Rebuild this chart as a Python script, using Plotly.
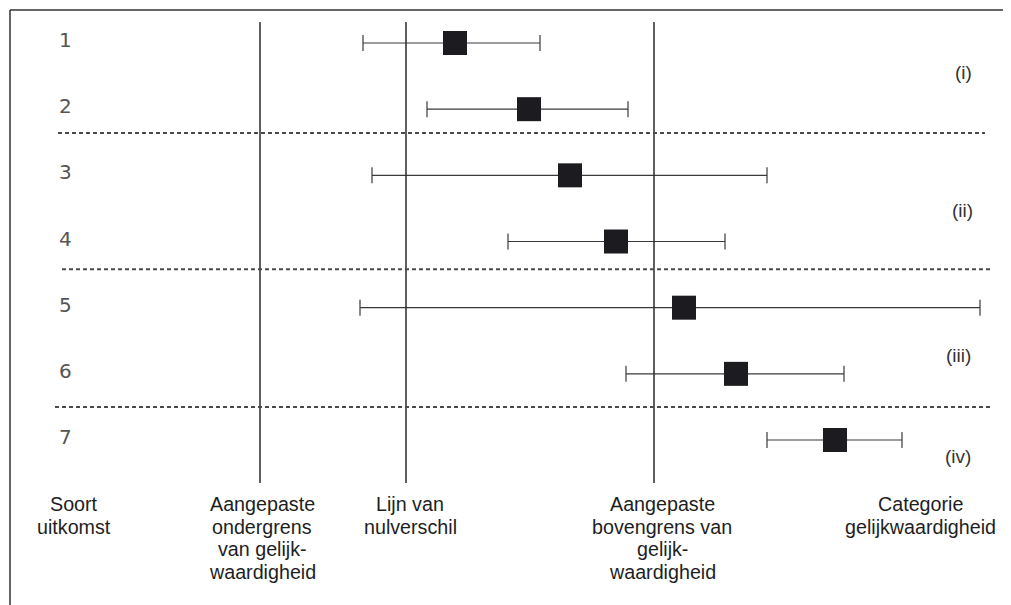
import plotly.graph_objects as go

# ---- data (effect scale: 0 = no difference; margins of equivalence) ----
rows = [1, 2, 3, 4, 5, 6, 7]
row_labels = ["1", "2", "3", "4", "5", "6", "7"]
estimate = [0.49, 1.23, 1.64, 2.10, 2.78, 3.30, 4.29]
ci_low = [-0.43, 0.21, -0.34, 1.02, -0.46, 2.20, 3.61]
ci_high = [1.34, 2.22, 3.61, 3.19, 5.74, 4.38, 4.96]

lower_margin = -1.46
zero_line = 0.0
upper_margin = 2.48

group_labels = ["(i)", "(ii)", "(iii)", "(iv)"]
group_label_rows = [1.45, 3.53, 5.72, 7.25]
separator_rows = [2.36, 4.42, 6.50]

bottom_labels = [
    ["Soort", "uitkomst"],
    ["Aangepaste", "ondergrens", "van gelijk-", "waardigheid"],
    ["Lijn van", "nulverschil"],
    ["Aangepaste", "bovengrens van", "gelijk-", "waardigheid"],
    ["Categorie", "gelijkwaardigheid"],
]
bottom_label_px = [74, 262, 410, 662, 920]

# page has an 8px body margin; figure is placed at (8, 8)
OFF = 8
W, H = 1011 - OFF, 605 - OFF
FONT = "Liberation Sans, Arial, sans-serif"


def px_x(p):
    return (p - OFF) / W


def px_y(p):
    return 1 - (p - OFF) / H


err_plus = [h - e for h, e in zip(ci_high, estimate)]
err_minus = [e - l for e, l in zip(estimate, ci_low)]

fig = go.Figure()
fig.add_trace(go.Scatter(
    x=estimate, y=rows, mode="markers",
    marker=dict(symbol="square", size=24, color="#1c1c20",
                line=dict(width=0)),
    error_x=dict(type="data", symmetric=False, array=err_plus,
                 arrayminus=err_minus, color="#3a3a3a", thickness=1.2,
                 width=8),
    showlegend=False, hoverinfo="skip",
))

shapes = []
# vertical reference lines
for xv in [lower_margin, zero_line, upper_margin]:
    shapes.append(dict(type="line", xref="x", yref="paper", x0=xv, x1=xv,
                       y0=px_y(483), y1=px_y(22),
                       line=dict(color="#2a2a2a", width=1.5)))
# dashed separators between categories
sep_extent = [(58, 985), (62, 990), (55, 990)]
for r, (xa, xb) in zip(separator_rows, sep_extent):
    shapes.append(dict(type="line", xref="paper", yref="y",
                       x0=px_x(xa), x1=px_x(xb), y0=r, y1=r,
                       line=dict(color="#4a4a4a", width=2, dash="4px,3px")))
# frame (left + top)
shapes.append(dict(type="line", xref="paper", yref="paper", x0=px_x(10), x1=px_x(10),
                   y0=0, y1=px_y(10), line=dict(color="#333", width=1.5)))
shapes.append(dict(type="line", xref="paper", yref="paper", x0=px_x(10), x1=1,
                   y0=px_y(10), y1=px_y(10), line=dict(color="#333", width=1.5)))

annotations = []
for r, lab in zip(rows, row_labels):
    annotations.append(dict(xref="paper", yref="y", x=px_x(65), y=r, yshift=3,
                            text=lab, showarrow=False, xanchor="center",
                            yanchor="middle",
                            font=dict(family="DejaVu Sans", size=20, color="#555")))
gx = [963, 962, 958, 958]
for r, lab, p in zip(group_label_rows, group_labels, gx):
    annotations.append(dict(xref="paper", yref="y", x=px_x(p), y=r,
                            text=lab, showarrow=False, xanchor="center",
                            yanchor="middle",
                            font=dict(family=FONT, size=19, color="#333")))
for lines, p in zip(bottom_labels, bottom_label_px):
    for i, t in enumerate(lines):
        yp = 504 + i * 22.6
        annotations.append(dict(xref="paper", yref="paper", x=px_x(p), y=px_y(yp),
                                text=t, showarrow=False, xanchor="center",
                                yanchor="middle",
                                font=dict(family=FONT, size=19.7, color="#1e1e1e")))

px_per_unit = 100.0
x0 = zero_line - (406 - OFF) / px_per_unit
x1 = x0 + W / px_per_unit
row_px = 66.17
y_top = 1 - (43 - OFF) / row_px
y_bot = 1 + (H - (43 - OFF)) / row_px

fig.update_layout(
    width=W, height=H,
    margin=dict(l=0, r=0, t=0, b=0),
    paper_bgcolor="white", plot_bgcolor="white",
    xaxis=dict(range=[x0, x1], visible=False, showgrid=False, zeroline=False),
    yaxis=dict(range=[y_bot, y_top], visible=False, showgrid=False, zeroline=False),
    shapes=shapes, annotations=annotations,
)

fig.write_html("out.html")
